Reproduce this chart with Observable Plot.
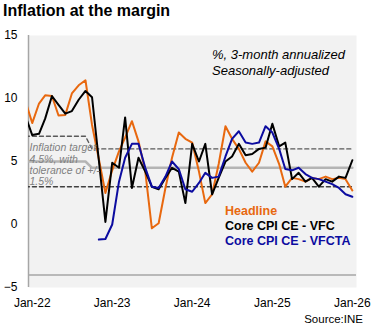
<!DOCTYPE html>
<html>
<head>
<meta charset="utf-8">
<script src="https://cdn.jsdelivr.net/npm/d3@7"></script>
<script src="https://cdn.jsdelivr.net/npm/@observablehq/plot@0.6"></script>
<style>
  html, body { margin: 0; padding: 0; background: #fff; }
  #wrap { position: relative; width: 375px; height: 333px; font-family: "Liberation Sans", Arial, sans-serif; overflow: hidden; }
  #chart { position: absolute; left: 0; top: 0; }
  .title { position: absolute; left: 3px; top: 2px; font-weight: bold; font-size: 16px; color: #000; white-space: nowrap; }
  .sub { position: absolute; left: 212px; top: 47px; font-style: italic; font-size: 13px; line-height: 15.7px; color: #000; white-space: nowrap; }
  .legend { position: absolute; left: 225px; top: 204px; font-weight: bold; font-size: 12.5px; line-height: 15px; white-space: nowrap; }
  .source { position: absolute; right: 12px; top: 313px; font-size: 11.5px; color: #000; white-space: nowrap; }
</style>
</head>
<body>
<div id="wrap">
  <div id="chart"></div>
  <div class="title">Inflation at the margin</div>
  <div class="sub">%, 3-month annualized<br>Seasonally-adjusted</div>
  <div class="legend" id="legend"></div>
  <div class="source">Source:INE</div>
</div>
<script>
// Months (Dec-21 to Jan-26)
const months = [
  "2021-12",
  "2022-01","2022-02","2022-03","2022-04","2022-05","2022-06","2022-07","2022-08","2022-09","2022-10","2022-11","2022-12",
  "2023-01","2023-02","2023-03","2023-04","2023-05","2023-06","2023-07","2023-08","2023-09","2023-10","2023-11","2023-12",
  "2024-01","2024-02","2024-03","2024-04","2024-05","2024-06","2024-07","2024-08","2024-09","2024-10","2024-11","2024-12",
  "2025-01","2025-02","2025-03","2025-04","2025-05","2025-06","2025-07","2025-08","2025-09","2025-10","2025-11","2025-12",
  "2026-01"
];

const headline = [
  9.8,
  8.05, 9.6, 10.25, 10.2, 8.65, 8.7, 10.4, 11.05, 11.45, 7.9, 5.2, 2.5,
  4.3, 5.8, 6.9, 8.2, 6.6, 4.2, -0.3, 0.1, 2.9, 5.3, 7.3, 6.8,
  6.5, 4.2, 1.7, 2.4, 4.8, 7.8, 6.8, 6.0, 4.9, 4.2, 4.9, 6.6,
  6.2, 4.8, 3.0, 3.7, 3.6, 3.4, 3.7, 3.6, 3.8, 3.6, 3.7, 3.6,
  2.7
];

const coreVFC = [
  8.6,
  7.1, 7.2, 8.4, 10.2, 9.5, 8.8, 9.0, 9.9, 10.6, 10.1, 5.1, 0.2,
  4.9, 4.5, 8.5, 2.9, 5.3, 4.2, 3.0, 2.8, 3.7, 4.5, 4.2, 1.7,
  6.4, 5.0, 6.4, 2.4, 3.7, 5.0, 5.4, 6.4, 5.5, 5.6, 6.0, 6.1,
  8.0, 6.2, 6.5, 3.6, 4.1, 3.4, 3.7, 3.0, 3.6, 3.4, 3.8, 3.7,
  5.1
];

const coreVFCTA = [
  null,
  null, null, null, null, null, null, null, null, null, null, -1.2, -1.15,
  0.0, 3.4, 5.3, 6.4, 6.4, 4.5, 3.0, 2.9, 3.8, 5.0, 4.4, 2.8,
  2.6, 3.3, 4.1, 3.7, 3.8, 5.4, 6.8, 7.4, 6.5, 6.4, 6.5, 7.8,
  7.3, 6.0, 4.4, 4.3, 4.5, 4.0, 3.7, 3.6, 3.4, 3.2, 2.9, 2.4,
  2.2
];

// Inflation target band (upper / center / lower)
const targetUpper = [
  7,
  7, 7, 7, 7, 7, 7, 7, 7, 7, 6, 6, 6,
  6, 6, 6, 6, 6, 6, 6, 6, 6, 6, 6, 6,
  6, 6, 6, 6, 6, 6, 6, 6, 6, 6, 6, 6,
  6, 6, 6, 6, 6, 6, 6, 6, 6, 6, 6, 6,
  6
];
const targetCenter = [
  5,
  5, 5, 5, 5, 5, 5, 5, 5, 5, 4.5, 4.5, 4.5,
  4.5, 4.5, 4.5, 4.5, 4.5, 4.5, 4.5, 4.5, 4.5, 4.5, 4.5, 4.5,
  4.5, 4.5, 4.5, 4.5, 4.5, 4.5, 4.5, 4.5, 4.5, 4.5, 4.5, 4.5,
  4.5, 4.5, 4.5, 4.5, 4.5, 4.5, 4.5, 4.5, 4.5, 4.5, 4.5, 4.5,
  4.5
];
const targetLower = [
  3,
  3, 3, 3, 3, 3, 3, 3, 3, 3, 3, 3, 3,
  3, 3, 3, 3, 3, 3, 3, 3, 3, 3, 3, 3,
  3, 3, 3, 3, 3, 3, 3, 3, 3, 3, 3, 3,
  3, 3, 3, 3, 3, 3, 3, 3, 3, 3, 3, 3,
  3
];

const seriesNames = ["Headline", "Core CPI CE - VFC", "Core CPI CE - VFCTA"];
const seriesColors = ["#e8680f", "#000000", "#0c0ca0"];

const yTicks = [-5, 0, 5, 10, 15];
const yDomain = [-5, 15];
const xTicks = ["2022-01-01", "2023-01-01", "2024-01-01", "2025-01-01", "2026-01-01"].map(d => new Date(d));
const xDomain = [new Date("2021-12-15"), new Date("2026-01-20")];
const baseLine = [-4];
const annotation = [{y: 4.75, text: "Inflation target\n4.5%, with\ntolerance of +/-\n1.5%"}];

const rows = months.map((m, i) => ({
  date: new Date(m + "-01"),
  headline: headline[i],
  vfc: coreVFC[i],
  vfcta: coreVFCTA[i],
  upper: targetUpper[i],
  center: targetCenter[i],
  lower: targetLower[i]
}));

const chart = Plot.plot({
  width: 375,
  height: 333,
  marginTop: 35,
  marginBottom: 46,
  marginLeft: 28,
  marginRight: 19,
  style: { fontFamily: "'Liberation Sans', Arial, sans-serif", fontSize: "12px", background: "transparent", color: "#000" },
  x: { type: "utc", domain: xDomain },
  y: { domain: yDomain },
  marks: [
    Plot.frame({ fill: "#f2f2f2", stroke: null }),
    Plot.ruleY(baseLine, { stroke: "#a6a6a6", strokeWidth: 1.5 }),
    Plot.ruleX([xDomain[0]], { stroke: "#a6a6a6", strokeWidth: 1.5 }),
    Plot.lineY(rows, { x: "date", y: "upper", stroke: "#595959", strokeWidth: 1.4, strokeDasharray: "4,3", clip: true }),
    Plot.lineY(rows, { x: "date", y: "lower", stroke: "#404040", strokeWidth: 1.4, strokeDasharray: "4,3", clip: true }),
    Plot.lineY(rows, { x: "date", y: "center", stroke: "#b4b4b4", strokeWidth: 2.5, clip: true }),
    Plot.lineY(rows, { x: "date", y: "headline", stroke: seriesColors[0], strokeWidth: 2, clip: true }),
    Plot.lineY(rows, { x: "date", y: "vfc", stroke: seriesColors[1], strokeWidth: 2, clip: true }),
    Plot.lineY(rows, { x: "date", y: "vfcta", stroke: seriesColors[2], strokeWidth: 2, clip: true }),
    Plot.text(annotation, { frameAnchor: "left", y: "y", text: "text", dx: 1, textAnchor: "start", lineAnchor: "middle", lineHeight: 1.08, fontSize: 10.5, fontStyle: "italic", fill: "#7f7f7f" }),
    Plot.axisY({ ticks: yTicks, tickSize: 0, tickPadding: 11, label: null, fontSize: 12 }),
    Plot.axisX({ ticks: xTicks, tickSize: 0, tickPadding: 11, label: null, tickFormat: d3.utcFormat("%b-%y"), fontSize: 12 })
  ]
});
document.getElementById("chart").appendChild(chart);

const legend = document.getElementById("legend");
seriesNames.forEach((name, i) => {
  const d = document.createElement("div");
  d.textContent = name;
  d.style.color = seriesColors[i];
  legend.appendChild(d);
});
</script>
</body>
</html>
